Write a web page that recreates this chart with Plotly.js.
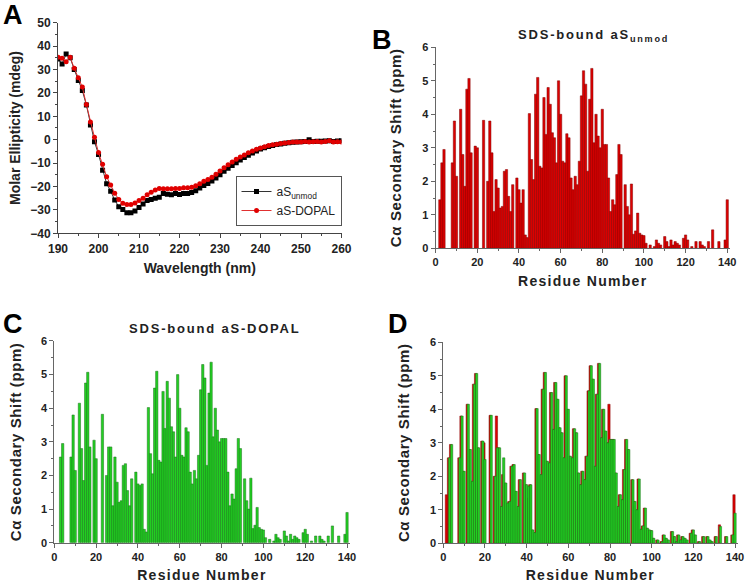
<!DOCTYPE html>
<html><head><meta charset="utf-8">
<script src="https://cdn.plot.ly/plotly-3.0.1.min.js"></script>
<style>
html,body{margin:0;padding:0;background:#fff}#chart{width:745px;height:583px}
.x2title,.x3title,.x4title{letter-spacing:1.3px}
.y2title,.y3title,.y4title{letter-spacing:0.6px}
.annotation-text{letter-spacing:1.8px}
</style>
</head><body><div id="chart"></div>
<script>
// ---- Panel A: CD spectra ----
const wavelength = [190,191,192,193,194,195,196,197,198,199,200,201,202,203,204,205,206,207,208,209,210,211,212,213,214,215,216,217,218,219,220,221,222,223,224,225,226,227,228,229,230,231,232,233,234,235,236,237,238,239,240,241,242,243,244,245,246,247,248,249,250,251,252,253,254,255,256,257,258,259,260];
const cdUnmod = [34.5,32.3,36.6,35,30,25.3,21,14.8,6.3,-0.9,-6.3,-13,-18.8,-22,-25.8,-28.6,-29.8,-31.2,-31.2,-30.5,-29,-27.5,-26,-25.5,-25,-24.6,-23,-23.3,-23.5,-23,-23.4,-23,-23,-22.6,-21.8,-20.6,-19.6,-18.7,-17.6,-16.4,-15,-13.5,-12.2,-11,-9.8,-8.7,-7.6,-6.6,-5.7,-4.8,-4,-3.4,-2.9,-2.5,-2.1,-1.8,-1.5,-1.3,-1.1,-1,-0.9,-0.8,0,-0.8,-0.7,-0.7,-0.6,-0.5,-0.8,-0.6,-0.5];
const cdDopal = [35.2,34.8,33.3,35.2,30.5,26.5,22.5,15,7.6,1,-5.5,-10.5,-15.8,-19.4,-22.9,-25.5,-27.2,-27.7,-27.7,-27,-26,-25,-23.5,-22.5,-21.5,-20.8,-21,-21,-21,-20.8,-20.8,-20.5,-20.5,-20.3,-19.7,-18.8,-17.8,-17,-16,-14.8,-13.4,-12,-10.7,-9.5,-8.4,-7.4,-6.5,-5.6,-4.8,-4.1,-3.5,-3,-2.5,-2.2,-1.9,-1.6,-1.4,-1.2,-1.0,-1,-1,-0.8,-1,-0.9,-0.8,-1,-0.8,-0.5,-1,-0.9,-1];

// ---- Panels B-D: C-alpha secondary shifts per residue ----
const residues = [1,2,3,4,5,6,7,8,9,10,11,12,13,14,15,16,17,18,19,20,21,22,23,24,25,26,27,28,29,30,31,32,33,34,35,36,37,38,39,40,41,42,43,44,45,46,47,48,49,50,51,52,53,54,55,56,57,58,59,60,61,62,63,64,65,66,67,68,69,70,71,72,73,74,75,76,77,78,79,80,81,82,83,84,85,86,87,88,89,90,91,92,93,94,95,96,97,98,99,100,101,102,103,104,105,106,107,108,109,110,111,112,113,114,115,116,117,118,119,120,121,122,123,124,125,126,127,128,129,130,131,132,133,134,135,136,137,138,139,140];
const shiftUnmod = [null,1.45,2.55,2.95,null,null,null,2.55,3.8,2.15,null,4.15,2.8,1.85,4.75,5.07,2.85,null,3.05,3.0,null,null,3.82,null,2.0,3.8,2.85,1.1,2.05,1.8,1.2,1.25,2.3,2.35,1.55,1.1,1.9,null,2.1,1.75,1.35,1.75,0.4,0.32,4.02,2.65,2.05,4.6,5.1,2.45,2.4,4.5,3.4,4.8,4.3,3.45,3.3,2.55,5.0,4.0,2.6,2.55,3.42,3.3,2.1,1.75,2.15,1.9,2.6,4.55,5.3,4.9,2.3,4.45,5.37,3.15,4.0,3.35,3.0,4.15,3.1,3.1,2.1,1.1,1.45,1.3,2.2,3.1,2.8,null,1.9,1.25,1.0,1.92,0.42,0.52,1.05,0.45,0.4,0.38,0.15,null,0.1,null,0.05,0.25,0.15,0.1,null,0.35,0.2,0.05,0.25,0.1,0.2,0.15,0.1,null,0.3,0.4,0.25,null,0.05,null,0.2,null,0.2,0.1,0.05,null,0.2,null,0.55,null,null,0.2,null,null,0.25,1.45];
const shiftDopal = [null,null,2.55,2.95,null,null,null,2.55,3.8,2.15,null,4.15,2.8,1.85,4.75,5.07,2.85,null,3.05,2.5,null,null,3.82,null,2.0,2.85,2.85,1.1,2.55,1.8,1.2,1.25,2.3,2.35,1.55,1.1,1.9,null,2.1,1.75,1.7,1.75,0.4,0.32,4.02,2.65,2.05,4.6,5.1,2.45,2.4,4.5,3.4,4.8,4.3,3.45,3.3,2.55,5.0,4.0,2.6,2.55,3.42,3.3,2.1,1.75,2.15,1.9,2.6,4.55,5.3,4.9,2.3,4.45,5.37,3.15,4.0,3.35,3.0,3.1,3.1,3.1,2.1,1.1,1.45,1.3,2.2,3.1,2.8,null,1.9,1.25,1.0,1.92,0.42,0.52,1.05,0.45,0.4,0.38,0.15,null,0.1,null,0.05,0.25,0.15,0.1,null,0.35,0.2,0.05,0.25,0.1,0.2,0.15,0.1,null,0.3,0.4,0.25,null,0.05,null,0.2,null,0.2,0.1,0.05,null,0.2,null,0.5,null,null,0.2,null,null,0.25,0.9];

const FONT = 'Liberation Sans, Arial, sans-serif';
const RED = '#dd0000', RED_EDGE = '#800000';
const GREEN = '#22d022', GREEN_EDGE = '#1d701d';
const resShift = residues.map(r => r - 0.5);
const BW = 1.1;

const traces = [
  {type:'scatter', mode:'lines+markers', x:wavelength, y:cdUnmod, name:'aS<sub>unmod</sub>',
   xaxis:'x', yaxis:'y', line:{color:'#333', width:1}, marker:{symbol:'square', size:5, color:'#000'}},
  {type:'scatter', mode:'lines+markers', x:wavelength, y:cdDopal, name:'aS-DOPAL',
   xaxis:'x', yaxis:'y', line:{color:'#e03030', width:1}, marker:{symbol:'circle', size:5, color:'#e00000'}},
  {type:'bar', x:residues, y:shiftUnmod, xaxis:'x2', yaxis:'y2', width:BW, showlegend:false,
   marker:{color:RED, line:{color:RED_EDGE, width:0.5}}},
  {type:'bar', x:residues, y:shiftDopal, xaxis:'x3', yaxis:'y3', width:BW, showlegend:false,
   marker:{color:GREEN, line:{color:GREEN_EDGE, width:0.5}}},
  {type:'bar', x:resShift, y:shiftUnmod, xaxis:'x4', yaxis:'y4', width:BW, showlegend:false,
   marker:{color:RED, line:{color:RED_EDGE, width:0.5}}},
  {type:'bar', x:residues, y:shiftDopal, xaxis:'x4', yaxis:'y4', width:BW, showlegend:false,
   marker:{color:GREEN, line:{color:GREEN_EDGE, width:0.5}}}
];

const tickFontA = {family:FONT, size:12, color:'#222', weight:'bold'};
const tickFontB = {family:FONT, size:11, color:'#222', weight:'bold'};
const titleFont = {family:FONT, size:14, color:'#222', weight:'bold'};

function barX(domain, anchor){
  return {domain:domain, anchor:anchor, range:[0,141.2], dtick:20, tick0:0, showline:true, linecolor:'#666', linewidth:1,
    ticks:'outside', ticklen:4, tickcolor:'#666', minor:{dtick:10, ticks:'outside', ticklen:2, tickcolor:'#666'},
    showgrid:false, zeroline:false, tickfont:tickFontB,
    title:{text:'Residue Number', font:{family:FONT, size:14, color:'#222', weight:'bold'}, standoff:8}};
}
function barY(domain, anchor, standoff){
  return {domain:domain, anchor:anchor, range:[0,6], dtick:1, showline:true, linecolor:'#666', linewidth:1,
    ticks:'outside', ticklen:4, tickcolor:'#666', minor:{dtick:0.5, ticks:'outside', ticklen:2, tickcolor:'#666'},
    showgrid:false, zeroline:false, tickfont:tickFontB,
    title:{text:'Cα Secondary Shift (ppm)', font:{family:FONT, size:15, color:'#222', weight:'bold'}, standoff:standoff}};
}
function letter(t, px, py){
  return {text:t, x:px/745, y:1-py/583, xref:'paper', yref:'paper', xanchor:'center', yanchor:'middle', showarrow:false,
    borderpad:0, font:{family:FONT, size:27, color:'#000', weight:'bold'}};
}

const layout = {
  width:745, height:583, margin:{l:0, r:0, t:0, b:0}, paper_bgcolor:'#fff', plot_bgcolor:'#fff',
  font:{family:FONT, color:'#222'}, barmode:'overlay', bargap:0,
  showlegend:true,
  legend:{x:0.4584, xanchor:'right', y:1-176/583, yanchor:'top', bgcolor:'#fff', bordercolor:'#555', borderwidth:1,
    font:{family:FONT, size:12, color:'#222'}, tracegroupgap:0, itemwidth:30},
  xaxis:{domain:[0.0779,0.4584], anchor:'y', range:[190,260], dtick:10, showline:true, linecolor:'#444', linewidth:1,
    ticks:'outside', ticklen:4, tickcolor:'#444', minor:{dtick:5, ticks:'outside', ticklen:2, tickcolor:'#444'},
    showgrid:false, zeroline:false, tickfont:tickFontA,
    title:{text:'Wavelength (nm)', font:titleFont, standoff:8}},
  yaxis:{domain:[0.5998,0.9611], anchor:'x', range:[-40,50], dtick:10, showline:true, linecolor:'#444', linewidth:1,
    ticks:'outside', ticklen:4, tickcolor:'#444', minor:{dtick:5, ticks:'outside', ticklen:2, tickcolor:'#444'},
    showgrid:false, zeroline:false, tickfont:tickFontA,
    title:{text:'Molar Ellipticity (mdeg)', font:titleFont, standoff:6}},
  xaxis2:barX([0.5848,0.9795],'y2'),
  yaxis2:barY([0.5741,0.9189],'x2',17),
  xaxis3:barX([0.0729,0.4692],'y3'),
  yaxis3:barY([0.0691,0.4151],'x3',15),
  xaxis4:barX([0.5950,0.9900],'y4'),
  yaxis4:barY([0.0681,0.4129],'x4',16),
  annotations:[
    letter('A', 14, 15),
    letter('B', 382, 40),
    letter('C', 14, 324),
    letter('D', 398, 324),
    {text:'SDS-bound aS<sub>unmod</sub>', x:593/745, y:1-36/583, xref:'paper', yref:'paper', xanchor:'center', yanchor:'middle', showarrow:false, font:{family:FONT, size:13, color:'#222', weight:'bold'}},
    {text:'SDS-bound aS-DOPAL', x:215/745, y:1-328/583, xref:'paper', yref:'paper', xanchor:'center', yanchor:'middle', showarrow:false, font:{family:FONT, size:13, color:'#222', weight:'bold'}}
  ]
};

Plotly.newPlot('chart', traces, layout, {staticPlot:true, displayModeBar:false});
</script></body></html>
